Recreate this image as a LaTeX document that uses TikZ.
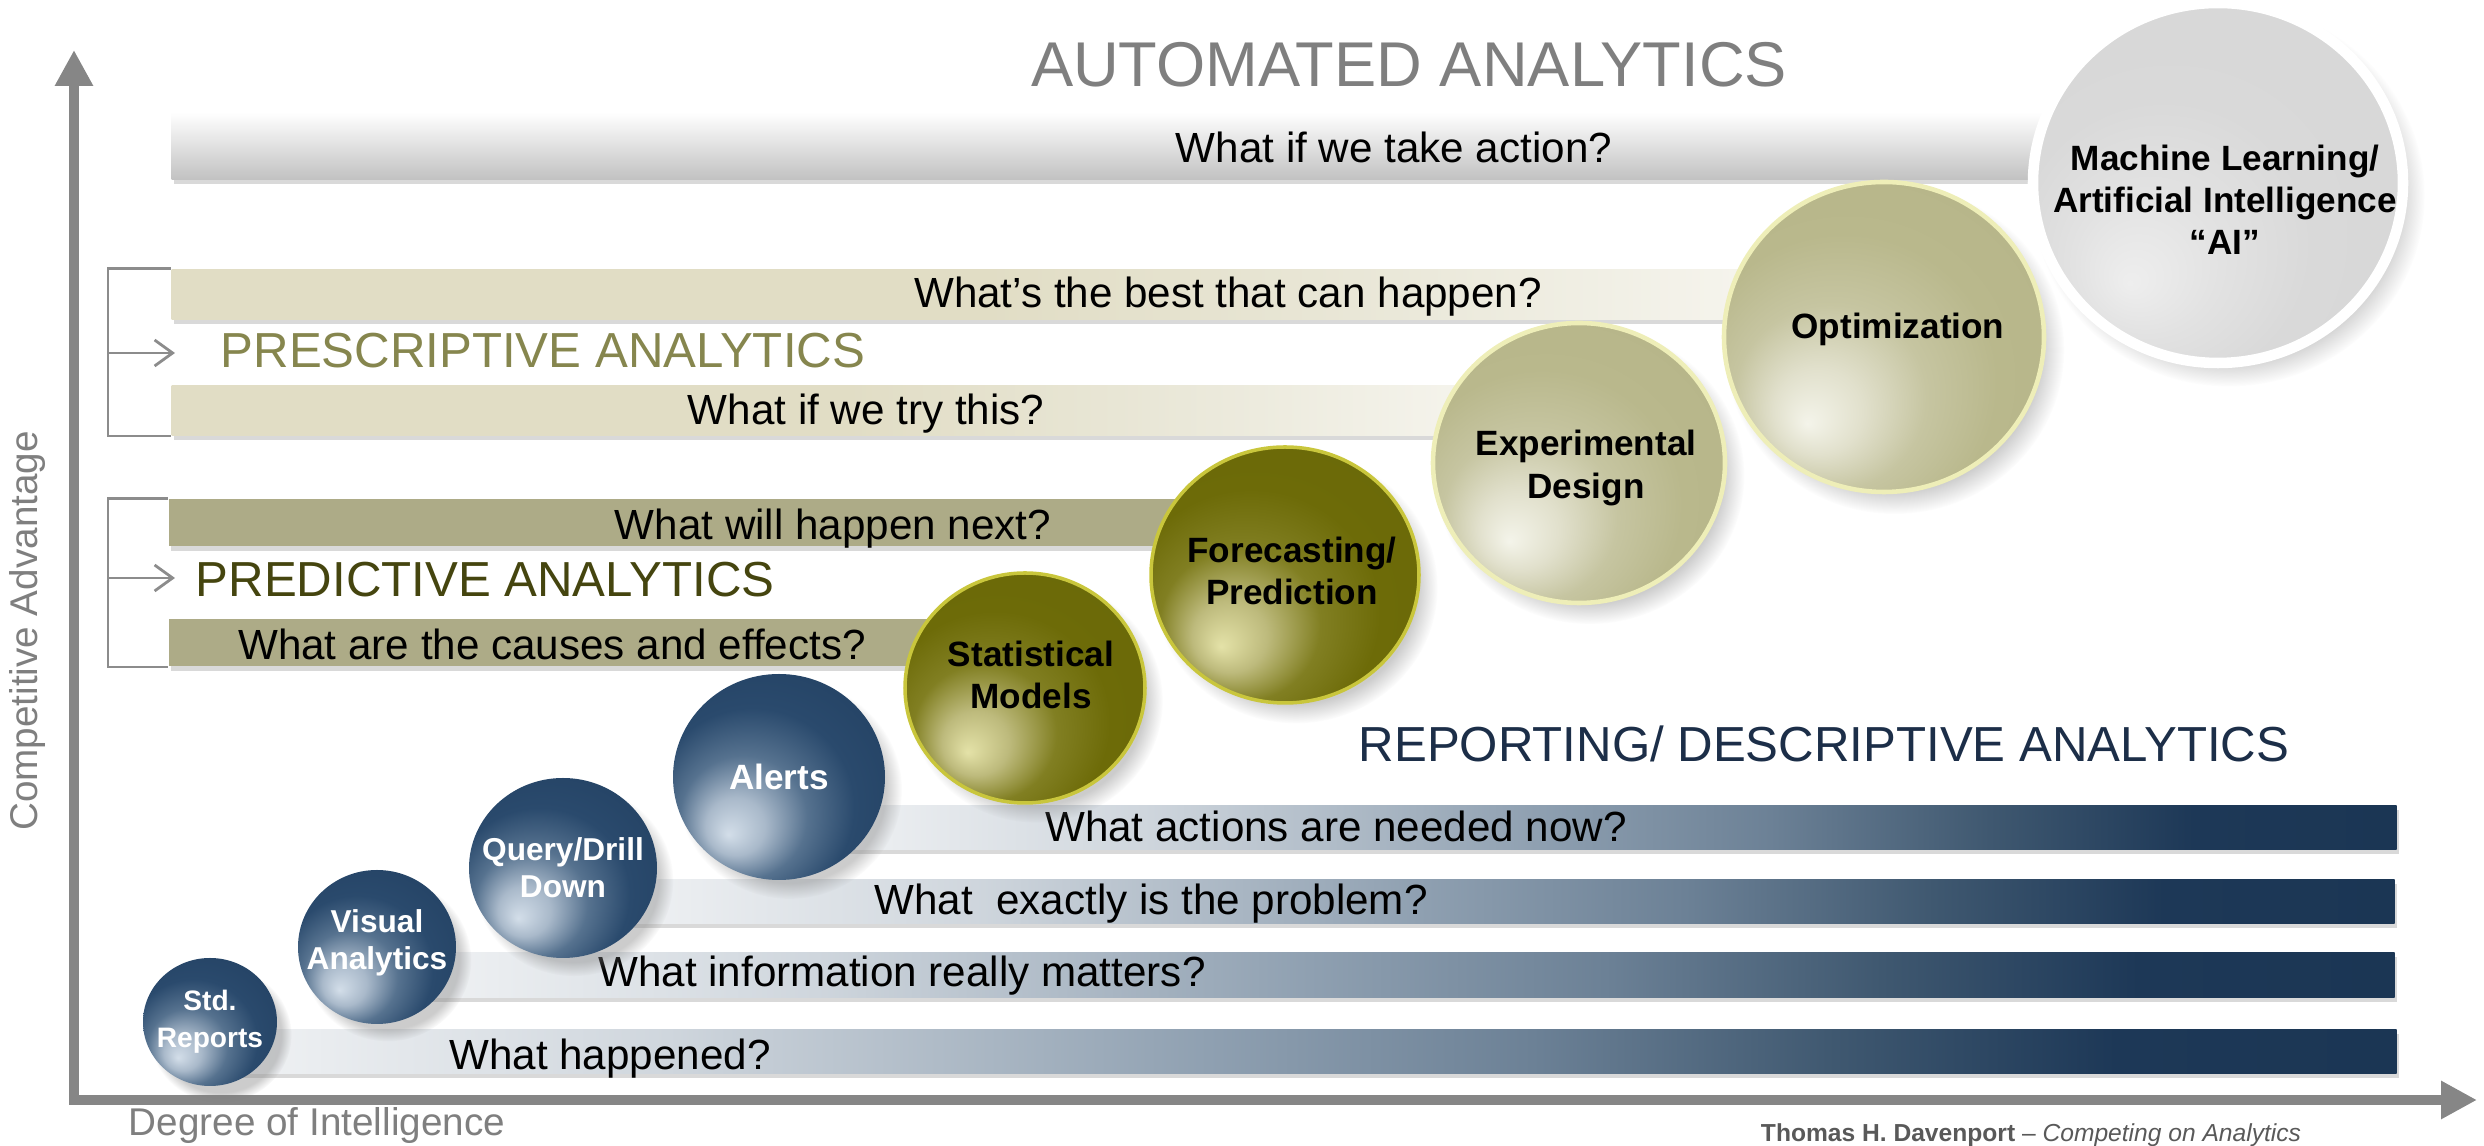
\documentclass[tikz,border=0pt]{standalone}
\usepackage{fontspec}
\setmainfont{Liberation Sans}
\usetikzlibrary{arrows.meta,shapes.geometric,shadows,fadings}

\definecolor{axisgray}{HTML}{868686}
\definecolor{labelgray}{HTML}{7F7F7F}
\definecolor{creditgray}{HTML}{595959}
\definecolor{bracketgray}{HTML}{8C8C8C}
\definecolor{presText}{HTML}{86864E}
\definecolor{predText}{HTML}{45450F}
\definecolor{descText}{HTML}{1C2E48}
\definecolor{predBar}{HTML}{ADAB87}
\definecolor{presA}{HTML}{E1DDC5}
\definecolor{presB}{HTML}{EAE8D9}
\definecolor{presC}{HTML}{F7F6F0}
\definecolor{descA}{HTML}{F0F2F4}
\definecolor{descB}{HTML}{CFD6DD}
\definecolor{descC}{HTML}{8FA0B1}
\definecolor{descD}{HTML}{6C8196}
\definecolor{descE}{HTML}{3F5870}
\definecolor{descF}{HTML}{1D3857}
\definecolor{descG}{HTML}{1B3654}
\definecolor{blueA}{HTML}{D3DEE9}
\definecolor{blueB}{HTML}{A9B9CA}
\definecolor{blueC}{HTML}{56728F}
\definecolor{blueD}{HTML}{2A4A6D}
\definecolor{blueE}{HTML}{1C3858}
\definecolor{oliveA}{HTML}{E4E2A8}
\definecolor{oliveB}{HTML}{BDBA7C}
\definecolor{oliveC}{HTML}{817F22}
\definecolor{oliveD}{HTML}{6D6B08}
\definecolor{oliveE}{HTML}{67660A}
\definecolor{oliveRim}{HTML}{C9C63C}
\definecolor{paleA}{HTML}{F4F4EA}
\definecolor{paleB}{HTML}{E1E0CC}
\definecolor{paleC}{HTML}{C6C5A1}
\definecolor{paleD}{HTML}{B9B88C}
\definecolor{paleE}{HTML}{B3B286}
\definecolor{paleRim}{HTML}{EEEEB8}
\definecolor{greyA}{HTML}{EEEEEE}
\definecolor{greyB}{HTML}{E2E2E2}
\definecolor{greyC}{HTML}{D9D9D9}
\definecolor{greyD}{HTML}{D5D5D5}

\pgfdeclarehorizontalshading{descsh}{100bp}{color(0bp)=(descA); color(25bp)=(descA); color(35bp)=(descB); color(47.5bp)=(descC); color(55bp)=(descD); color(62bp)=(descE); color(68.5bp)=(descF); color(75bp)=(descG); color(100bp)=(descG)}
\pgfdeclarehorizontalshading{pressh}{100bp}{color(0bp)=(presA); color(50bp)=(presA); color(62.5bp)=(presB); color(75bp)=(presC); color(100bp)=(presC)}
\pgfdeclareradialshading{bluesh}{\pgfpoint{-12bp}{-14bp}}{color(0bp)=(blueA); color(7bp)=(blueB); color(15bp)=(blueC); color(24bp)=(blueD); color(50bp)=(blueE)}
\pgfdeclareradialshading{olivesh}{\pgfpoint{-12bp}{-14bp}}{color(0bp)=(oliveA); color(7bp)=(oliveB); color(15bp)=(oliveC); color(24bp)=(oliveD); color(50bp)=(oliveE)}
\pgfdeclareradialshading{palesh}{\pgfpoint{-12bp}{-14bp}}{color(0bp)=(paleA); color(7bp)=(paleB); color(15bp)=(paleC); color(24bp)=(paleD); color(50bp)=(paleE)}
\pgfdeclareradialshading{greysh}{\pgfpoint{-12bp}{-14bp}}{color(0bp)=(greyA); color(10bp)=(greyB); color(20bp)=(greyC); color(50bp)=(greyD)}

\tikzset{
	qbar/.style={inner sep=0, anchor=south west, drop shadow={shadow xshift=0.02cm, shadow yshift=-0.05cm, opacity=0.3}},
	autobar/.style={qbar, top color=white, middle color=black!7, bottom color=black!24},
	presbar/.style={qbar, shading=pressh},
	predbar/.style={qbar, fill=predBar},
	descbar/.style={qbar, shading=descsh},
	question/.style={inner sep=0, anchor=base, font=\fontsize{12}{14}\selectfont},
	grouptitle/.style={inner sep=0, anchor=base west, font=\fontsize{14}{16}\selectfont},
	balltext/.style={inner sep=0, align=center, font=\bfseries\fontsize{10}{12}\selectfont},
	smallballtext/.style={balltext, text=white, font=\bfseries\fontsize{#1}{10.5}\selectfont},
	ball/.style={shape=ellipse, inner sep=0,
		circular drop shadow={shadow xshift=0.10cm, shadow yshift=-0.12cm, shadow scale=1.06, opacity=0.4}},
	blueball/.style={ball, shading=bluesh},
	oliveball/.style={ball, shading=olivesh, draw=oliveRim, line width=1pt},
	paleball/.style={ball, shading=palesh, draw=paleRim, line width=1.3pt},
	greyball/.style={ball, shading=greysh, draw=white, line width=3pt},
	bracket/.style={draw=bracketgray, line width=0.8pt},
}

\begin{document}
\begin{tikzpicture}
	\useasboundingbox (0, 0) rectangle (24.84, 11.46);

	\coordinate (origin) at (0.74, 0.46);
	\coordinate (ytip) at (0.74, 10.96);
	\coordinate (xtip) at (24.77, 0.46);
	\draw[draw=axisgray, line width=2.8pt, line join=miter, {Triangle[length=0.36cm,width=0.36cm]}-{Triangle[length=0.36cm,width=0.36cm]}] (ytip) -- (origin) -- (xtip);

	\node[rotate=90, text=labelgray, font=\fontsize{11}{13}\selectfont] (yLabel) at (0.28, 5.15) {Competitive Advantage};
	\node[anchor=base, inner sep=0, text=labelgray, font=\fontsize{11}{13}\selectfont] (xLabel) at (3.17, 0.10) {Degree of Intelligence};
	\node[anchor=base, inner sep=0, text=creditgray, font=\fontsize{7}{8}\selectfont] (credit) at (20.31, 0.04) {\textbf{Thomas H. Davenport} – \textit{Competing on Analytics}};

	\node[autobar, minimum width=19.29cm, minimum height=0.67cm] (barAction) at (1.71, 9.66) {};
	\node[presbar, minimum width=16.29cm, minimum height=0.50cm] (barBest) at (1.71, 8.26) {};
	\node[presbar, minimum width=13.49cm, minimum height=0.50cm] (barTry) at (1.71, 7.10) {};
	\node[predbar, minimum width=10.62cm, minimum height=0.47cm] (barNext) at (1.68, 5.99) {};
	\node[predbar, minimum width=8.12cm, minimum height=0.47cm] (barCause) at (1.68, 4.79) {};
	\node[descbar, minimum width=15.66cm, minimum height=0.44cm] (barNow) at (8.30, 2.96) {};
	\node[descbar, minimum width=17.74cm, minimum height=0.44cm] (barProblem) at (6.20, 2.22) {};
	\node[descbar, minimum width=19.74cm, minimum height=0.45cm] (barMatter) at (4.20, 1.48) {};
	\node[descbar, minimum width=21.61cm, minimum height=0.44cm] (barHappened) at (2.35, 0.72) {};

	\node[anchor=base, inner sep=0, text=labelgray, font=\fontsize{18}{20}\selectfont] (autoTitle) at (14.09, 10.59) {AUTOMATED ANALYTICS};
	\node[grouptitle, text=presText] (presTitle) at (2.20, 7.78) {PRESCRIPTIVE ANALYTICS};
	\node[grouptitle, text=predText] (predTitle) at (1.95, 5.49) {PREDICTIVE ANALYTICS};
	\node[grouptitle, text=descText] (descTitle) at (13.58, 3.84) {REPORTING/ DESCRIPTIVE ANALYTICS};

	\node[question] (qAction) at (13.94, 9.83) {What if we take action?};
	\node[question] (qBest) at (12.28, 8.38) {What’s the best that can happen?};
	\node[question] (qTry) at (8.66, 7.21) {What if we try this?};
	\node[question] (qNext) at (8.33, 6.06) {What will happen next?};
	\node[question] (qCause) at (5.52, 4.86) {What are the causes and effects?};
	\node[question] (qNow) at (13.36, 3.04) {What actions are needed now?};
	\node[question] (qProblem) at (11.51, 2.31) {What~ exactly is the problem?};
	\node[question] (qMatter) at (9.02, 1.59) {What information really matters?};
	\node[question] (qHappened) at (6.10, 0.76) {What happened?};

	\coordinate (presTip) at (1.75, 7.93);
	\coordinate (predTip) at (1.75, 5.68);
	\draw[bracket] (barBest.north west) -- ++(-0.63, 0) |- (barTry.south west);
	\draw[bracket, -{Straight Barb[length=0.18cm,width=0.26cm]}] (1.08, 7.93) -- (presTip);
	\draw[bracket] (barNext.north west) -- ++(-0.60, 0) |- (barCause.south west);
	\draw[bracket, -{Straight Barb[length=0.18cm,width=0.26cm]}] (1.08, 5.68) -- (predTip);

	\node[blueball, minimum width=1.34cm, minimum height=1.28cm, label={[smallballtext=8]center:Std.\\Reports}] (stdReports) at (2.10, 1.24) {};
	\node[blueball, minimum width=1.58cm, minimum height=1.54cm, label={[smallballtext=9, yshift=0.04cm]center:Visual\\Analytics}] (visual) at (3.77, 1.99) {};
	\node[blueball, minimum width=1.88cm, minimum height=1.80cm, label={[smallballtext=9]center:Query/Drill\\Down}] (query) at (5.63, 2.78) {};
	\node[blueball, minimum width=2.12cm, minimum height=2.06cm, label={[balltext, text=white]center:Alerts}] (alerts) at (7.79, 3.69) {};
	\node[oliveball, minimum width=2.40cm, minimum height=2.30cm, label={[balltext, xshift=0.06cm, yshift=0.13cm]center:Statistical\\Models}] (statModels) at (10.25, 4.58) {};
	\node[oliveball, minimum width=2.68cm, minimum height=2.56cm, label={[balltext, xshift=0.07cm, yshift=0.04cm]center:Forecasting/\\Prediction}] (forecast) at (12.85, 5.71) {};
	\node[paleball, minimum width=2.92cm, minimum height=2.80cm, label={[balltext, xshift=0.07cm, yshift=-0.05cm]center:Experimental\\Design}] (experiment) at (15.79, 6.83) {};
	\node[paleball, minimum width=3.20cm, minimum height=3.10cm, label={[balltext, xshift=0.14cm, yshift=0.08cm]center:Optimization}] (optimization) at (18.84, 8.09) {};
	\node[greyball, minimum width=3.70cm, minimum height=3.60cm, label={[balltext, xshift=0.07cm, yshift=-0.17cm]center:Machine Learning/\\Artificial Intelligence\\“AI”}] (machineAI) at (22.18, 9.63) {};

\end{tikzpicture}
\end{document}
